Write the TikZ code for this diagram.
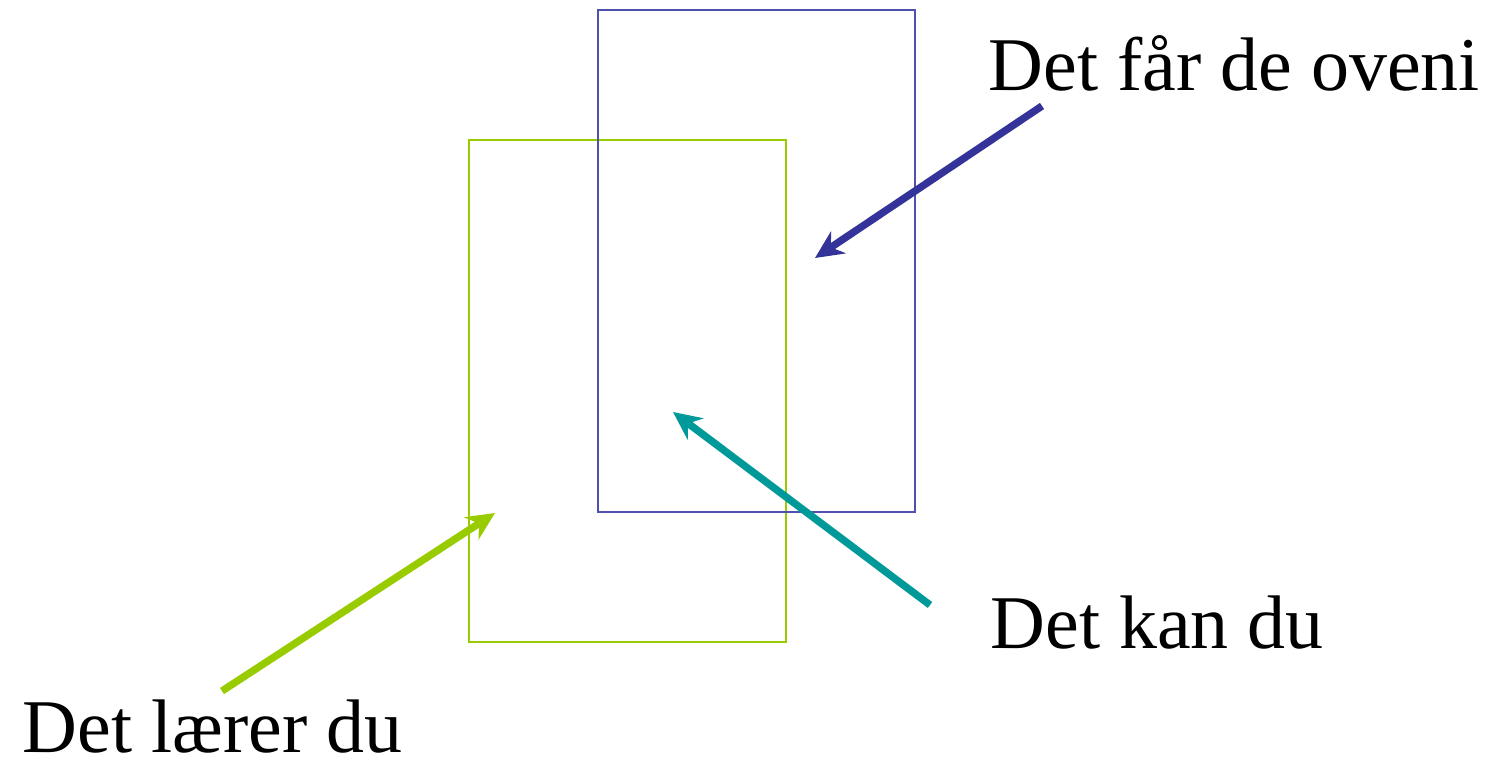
\documentclass[tikz,border=0pt]{standalone}
\usepackage{fontspec}
\setmainfont{Liberation Serif}
\usetikzlibrary{arrows.meta}
\definecolor{boxblue}{RGB}{80,80,175}
\definecolor{arrblue}{RGB}{51,51,153}
\definecolor{arrteal}{RGB}{0,153,153}
\definecolor{lime}{RGB}{153,204,0}
\begin{document}
\begin{tikzpicture}
    [lbl/.style={inner sep=0pt, text depth=0pt, anchor=base west, font=\fontsize{21.6}{25}\selectfont},
    frame/.style={draw, line width=0.45pt, inner sep=0pt, minimum width=3.17cm, minimum height=5.02cm},
    pointer/.style={line width=2.1pt, -{Stealth[length=8pt, width=7.5pt]}}]
    \useasboundingbox (0,0) rectangle (14.89,7.64);
    % the two boxes
    \node[frame, draw=lime, anchor=north west] (learn) at (4.68,6.25) {};
    \node[frame, draw=boxblue, anchor=north west] (extra) at (5.97,7.55) {};
    % texts
    \node[lbl] (toptext) at (9.88,6.74) {Det får de oveni};
    \node[lbl] (midtext) at (9.90,1.16) {Det kan du};
    \node[lbl] (lowtext) at (0.22,0.12) {Det lærer du};
    % arrow ends
    \coordinate (a1) at (10.42,6.58);
    \coordinate (b1) at (8.15,5.06);
    \coordinate (a2) at (9.30,1.59);
    \coordinate (b2) at (6.73,3.52);
    \coordinate (a3) at (2.22,0.73);
    \coordinate (b3) at (4.95,2.51);
    \draw[pointer, arrblue] (a1) -- (b1);
    \draw[pointer, arrteal] (a2) -- (b2);
    \draw[pointer, lime] (a3) -- (b3);
\end{tikzpicture}
\end{document}
